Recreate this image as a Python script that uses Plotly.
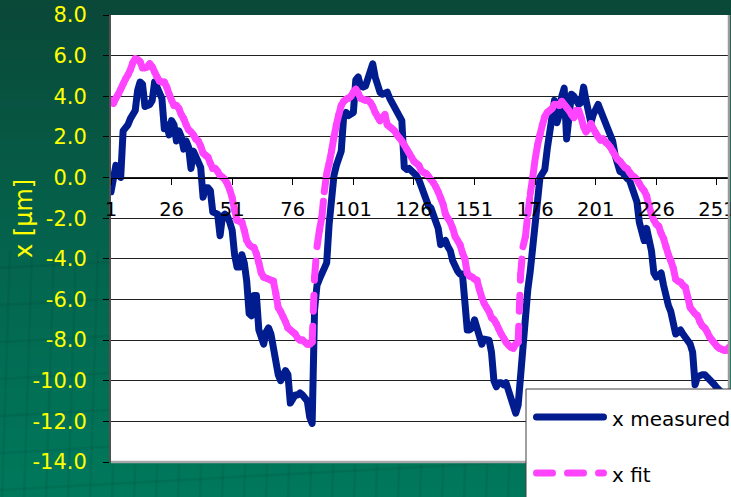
import plotly.graph_objects as go

# ---- data -------------------------------------------------------------
categories = list(range(1, 257))

x_measured = [
    -0.7, 0.0, 0.6, 0.5, 0.0, 2.3, 2.4, 2.6, 2.9, 3.1,
    3.3, 4.3, 4.7, 4.6, 3.5, 3.55, 3.6, 3.8, 4.7, 4.45,
    4.2, 3.9, 2.4, 2.6, 2.1, 2.8, 2.6, 1.8, 2.3, 2.0,
    1.4, 1.8, 1.5, 0.45, 1.3, 1.0, 0.7, 0.5, -0.97, -0.5,
    -0.5, -0.65, -1.7, -1.75, -1.8, -2.86, -1.9, -1.8, -1.9, -2.2,
    -2.6, -3.8, -4.4, -4.4, -3.8, -4.2, -5.1, -6.7, -6.8, -5.8,
    -5.8, -7.5, -7.9, -8.2, -7.6, -7.4, -7.7, -8.3, -9.3, -9.7,
    -10.0, -9.8, -9.5, -9.7, -11.1, -10.9, -10.7, -10.7, -10.6, -10.7,
    -10.9, -11.0, -11.8, -12.1, -6.5, -5.3, -5.0, -4.7, -4.4, -4.2,
    -2.3, -0.6, 0.1, 0.6, 1.0, 1.3, 3.0, 3.2, 3.05, 3.1,
    3.2, 4.8, 4.95, 4.5, 4.45, 4.5, 4.9, 5.3, 5.6, 4.95,
    4.45, 4.2, 4.1, 4.15, 4.2, 3.9, 3.7, 3.4, 3.2, 3.0,
    2.8, 0.5, 0.4, 0.45, 0.35, 0.3, 0.1, -0.1, -0.4, -0.7,
    -1.2, -1.4, -1.5, -1.8, -2.0, -2.5, -3.3, -3.2, -3.1, -3.4,
    -3.6, -4.1, -4.4, -4.6, -4.75, -4.75, -6.1, -7.5, -7.5, -7.4,
    -7.0, -7.5, -7.9, -8.2, -7.95, -7.95, -8.0, -8.6, -10.0, -10.3,
    -10.1, -10.1, -10.2, -10.1, -10.5, -10.6, -11.3, -11.6, -11.2, -9.7,
    -7.7, -6.3, -5.5, -4.6, -3.3, -2.1, -0.7, 0.0, 0.2, 0.4,
    1.4, 2.1, 3.3, 3.8, 2.7, 3.1, 4.0, 4.4, 1.9, 3.5,
    4.1, 4.0, 3.8, 3.6, 3.7, 4.45, 3.8, 3.0, 2.7, 3.1,
    3.5, 3.6, 3.3, 3.0, 2.7, 2.4, 2.2, 1.8, 1.1, 0.6,
    0.3, 0.25, 0.05, -0.05, -0.15, -0.45, -0.8, -1.2, -2.2, -2.9,
    -3.1, -2.5, -3.0, -3.6, -4.7, -4.9, -4.8, -4.7, -5.3, -5.9,
    -6.3, -6.6, -7.1, -7.7, -7.6, -7.5, -7.7, -7.9, -8.0, -8.2,
    -8.6, -10.2, -9.8, -9.7, -9.7, -9.7, -9.8, -9.9, -10.1, -10.2,
    -10.35, -10.5, -10.6, -10.7, -10.8, -10.9,
]

x_fit = [
    3.8, 3.65, 3.9, 4.1, 4.35, 4.6, 4.85, 5.05, 5.3, 5.65,
    5.85, 5.8, 5.7, 5.4, 5.4, 5.45, 5.6, 5.45, 5.2, 4.95,
    4.75, 4.7, 4.7, 4.45, 4.1, 3.8, 3.55, 3.55, 3.4, 3.1,
    2.9, 2.6, 2.35, 2.25, 2.1, 1.9, 1.8, 1.55, 1.2, 1.1,
    1.0, 0.7, 0.45, 0.45, 0.3, 0.1, 0.02, -0.1, -0.3, -0.6,
    -1.0, -1.6, -2.1, -2.15, -2.2, -2.6, -3.1, -3.3, -3.4, -3.45,
    -3.75, -4.2, -4.7, -4.9, -4.95, -5.0, -5.05, -5.1, -5.7, -6.4,
    -6.6, -6.85, -7.1, -7.4, -7.5, -7.6, -7.7, -7.9, -8.0, -8.0,
    -8.1, -8.2, -8.2, -8.1, -4.9, -3.4, -2.6, -1.95, -0.7, 0.2,
    0.7, 1.3, 2.0, 2.6, 3.1, 3.55, 3.75, 3.85, 3.9, 4.0,
    4.2, 4.35, 4.15, 3.9, 3.85, 3.8, 3.8, 3.7, 3.5, 3.2,
    3.0, 2.8, 2.95, 3.1, 2.6, 2.5, 2.4, 2.3, 2.1, 1.95,
    1.8, 1.6, 1.4, 1.2, 1.0, 0.8, 0.7, 0.6, 0.35, 0.25,
    0.2, 0.05, -0.1, -0.25, -0.45, -0.7, -1.0, -1.3, -1.8, -2.0,
    -2.2, -2.5, -2.9, -3.1, -3.3, -3.7, -4.0, -4.7, -4.85, -4.9,
    -5.0, -5.05, -5.5, -5.9, -6.2, -6.4, -6.6, -6.9, -7.0, -7.2,
    -7.45, -7.7, -7.9, -8.1, -8.25, -8.35, -8.4, -8.2, -8.1, -4.8,
    -3.4, -2.9, -1.8, -0.8, 0.0, 0.9, 1.6, 2.1, 2.6, 3.0,
    3.2, 3.3, 3.4, 3.6, 3.6, 3.55, 3.75, 3.6, 3.45, 3.3,
    3.1, 2.95, 3.3, 3.3, 2.95, 2.5, 2.25, 2.4, 2.65, 2.4,
    2.2, 2.0, 1.85, 1.9, 1.75, 1.65, 1.5, 1.3, 1.1, 0.9,
    0.8, 0.65, 0.5, 0.43, 0.25, 0.1, 0.02, -0.1, -0.3, -0.5,
    -0.65, -0.9, -1.4, -1.8, -2.1, -2.3, -2.4, -2.75, -3.0, -3.4,
    -3.8, -4.1, -4.45, -5.0, -5.1, -5.15, -5.3, -5.4, -5.9, -6.4,
    -6.55, -6.7, -6.8, -7.1, -7.3, -7.4, -7.6, -7.85, -8.0, -8.15,
    -8.3, -8.4, -8.45, -8.5, -8.5, -8.35,
]

y_ticks = [-14, -12, -10, -8, -6, -4, -2, 0, 2, 4, 6, 8]
y_tick_labels = ["%.1f" % v for v in y_ticks]
x_ticks = [1, 26, 51, 76, 101, 126, 151, 176, 201, 226, 251]
x_tick_labels = [str(v) for v in x_ticks]

series_names = ["x measured", "x fit"]
axis_title = "x [µm]"

# ---- styling ----------------------------------------------------------
W, H = 731, 497
M_L, M_R, M_T, M_B = 111, 2, 15, 35
PLOT_W = W - M_L - M_R
PLOT_H = H - M_T - M_B

NAVY = "#001c8e"
PINK = "#ff44ff"
YELLOW = "#ffff00"
FONT = "DejaVu Sans"


def px_x(p):
    """pixel column -> paper x"""
    return (p - M_L) / PLOT_W


def px_y(p):
    """pixel row -> paper y"""
    return (H - M_B - p) / PLOT_H


# the dashed series is drawn segment by segment so each step restarts its dash
fit_x, fit_y = [], []
for i in range(len(categories) - 1):
    fit_x += [categories[i], categories[i + 1], None]
    fit_y += [x_fit[i], x_fit[i + 1], None]

fig = go.Figure()
fig.add_trace(go.Scatter(
    x=categories, y=x_measured, mode="lines", name=series_names[0],
    line=dict(color=NAVY, width=7), showlegend=False, hoverinfo="skip",
))
fig.add_trace(go.Scatter(
    x=fit_x, y=fit_y, mode="lines", name=series_names[1],
    line=dict(color=PINK, width=7, dash="16px,15px"),
    connectgaps=False, showlegend=False, hoverinfo="skip",
))

shapes = []

# green slide background, darker at the top
def mix(c0, c1, t):
    return "rgb(%d,%d,%d)" % tuple(round(a + (b - a) * t) for a, b in zip(c0, c1))

top_col, mid_col, bot_col = (10, 72, 56), (4, 100, 77), (0, 120, 91)
n_bands = 50
for i in range(n_bands):
    t = i / (n_bands - 1)
    col = mix(top_col, mid_col, t * 2) if t < 0.5 else mix(mid_col, bot_col, (t - 0.5) * 2)
    r0 = H * i / n_bands
    r1 = H * (i + 1) / n_bands + 1
    shapes.append(dict(type="rect", xref="paper", yref="paper",
                       x0=px_x(-5), x1=px_x(W + 5), y0=px_y(r1), y1=px_y(r0),
                       fillcolor=col, line=dict(width=0), layer="below"))

# faint darker tile pattern on the lower part of the slide
tile = "rgba(0,45,32,0.09)"
for cx in range(6, W, 22):
    shapes.append(dict(type="line", xref="paper", yref="paper",
                       x0=px_x(cx + 4), x1=px_x(cx - 4), y0=px_y(250), y1=px_y(H + 2),
                       line=dict(color=tile, width=2.5), layer="below"))
for ry in range(268, H + 40, 37):
    shapes.append(dict(type="line", xref="paper", yref="paper",
                       x0=px_x(-2), x1=px_x(W + 2), y0=px_y(ry), y1=px_y(ry - 40),
                       line=dict(color=tile, width=2.5), layer="below"))

# white plot area with a light grey edge on the right and bottom
shapes.append(dict(type="rect", xref="paper", yref="paper", x0=0, x1=1, y0=0, y1=1,
                   fillcolor="white", line=dict(width=0), layer="below"))
shapes.append(dict(type="line", xref="paper", yref="paper", x0=1, x1=1, y0=0, y1=1,
                   line=dict(color="#9a9a9a", width=2.5), layer="above"))
shapes.append(dict(type="line", xref="paper", yref="paper", x0=0, x1=1, y0=0, y1=0,
                   line=dict(color="#a8a8a8", width=2.5), layer="above"))

# legend box in the lower right corner
shapes.append(dict(type="rect", xref="paper", yref="paper",
                   x0=px_x(526), x1=px_x(W + 20), y0=px_y(H + 20), y1=px_y(389),
                   fillcolor="white", line=dict(color="#404040", width=1), layer="above"))
shapes.append(dict(type="line", xref="paper", yref="paper",
                   x0=px_x(536.5), x1=px_x(603.5), y0=px_y(417), y1=px_y(417),
                   line=dict(color=NAVY, width=7), layer="above"))
shapes.append(dict(type="line", xref="paper", yref="paper",
                   x0=px_x(536.5), x1=px_x(603.5), y0=px_y(473), y1=px_y(473),
                   line=dict(color=PINK, width=7, dash="16px,15px"), layer="above"))

annotations = [
    dict(text=axis_title, xref="paper", yref="paper", x=px_x(24), y=px_y(219),
         textangle=-90, showarrow=False, xanchor="center", yanchor="middle",
         font=dict(family=FONT, size=24, color=YELLOW)),
    dict(text=series_names[0], xref="paper", yref="paper", x=px_x(610), y=px_y(419),
         showarrow=False, xanchor="left", yanchor="middle",
         font=dict(family=FONT, size=20, color="black")),
    dict(text=series_names[1], xref="paper", yref="paper", x=px_x(610), y=px_y(475),
         showarrow=False, xanchor="left", yanchor="middle",
         font=dict(family=FONT, size=20, color="black")),
]

fig.update_layout(
    width=W, height=H,
    margin=dict(l=M_L, r=M_R, t=M_T, b=M_B, pad=0, autoexpand=False),
    paper_bgcolor="#0a4a3a",
    plot_bgcolor="white",
    showlegend=False,
    shapes=shapes,
    annotations=annotations,
    xaxis=dict(
        type="linear", range=[1, 256], fixedrange=True,
        anchor="free", position=(0 - y_ticks[0]) / (y_ticks[-1] - y_ticks[0]),
        tickmode="array", tickvals=x_ticks, ticktext=x_tick_labels,
        ticks="outside", ticklen=6, tickwidth=1, tickcolor="black",
        ticklabelstandoff=8, ticklabeloverflow="allow",
        tickfont=dict(family=FONT, size=19.5, color="black"),
        showline=True, linecolor="black", linewidth=1,
        showgrid=False, zeroline=False,
    ),
    yaxis=dict(
        range=[y_ticks[0], y_ticks[-1]], fixedrange=True,
        tickmode="array", tickvals=y_ticks, ticktext=y_tick_labels,
        ticks="outside", ticklen=6, tickwidth=1, tickcolor="black",
        ticklabelstandoff=12,
        tickfont=dict(family=FONT, size=21, color=YELLOW),
        showline=True, linecolor="#505050", linewidth=2,
        showgrid=True, gridcolor="#202020", gridwidth=1,
        zeroline=False,
    ),
)

round_caps = """
var gd = document.getElementById('{plot_id}');
function roundLines() {
  gd.querySelectorAll('.scatterlayer path.js-line').forEach(function (p) {
    p.style.strokeLinecap = 'round';
    p.style.strokeLinejoin = 'round';
  });
  gd.querySelectorAll('.shapelayer path').forEach(function (p) {
    if (parseFloat(p.style.strokeWidth) > 3) { p.style.strokeLinecap = 'round'; }
  });
}
roundLines();
gd.on('plotly_afterplot', roundLines);
"""

fig.write_html("out.html", config={"displayModeBar": False, "staticPlot": True},
               post_script=round_caps)
